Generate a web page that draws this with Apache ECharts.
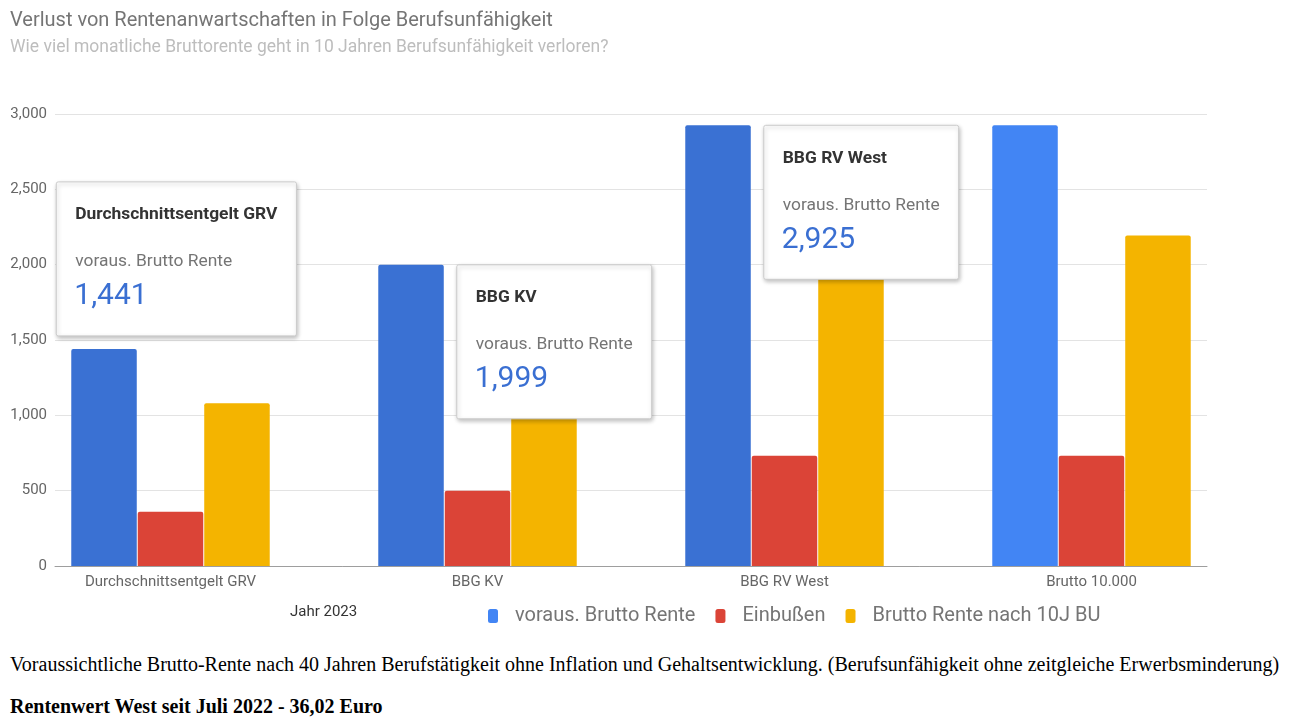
<!DOCTYPE html>
<html>
<head>
<meta charset="utf-8">
<script src="https://cdn.jsdelivr.net/npm/echarts@6/dist/echarts.min.js"></script>
<style>
  html, body { margin: 0; padding: 0; background: #fff; }
  #chart { position: absolute; left: 0; top: 0; width: 1291px; height: 640px; }
  .note { position: absolute; left: 10px; font-family: "Liberation Serif", "Times New Roman", serif; font-size: 20px; color: #000; white-space: nowrap; margin: 0; }
  #n1 { top: 653px; }
  #n2 { top: 695px; font-weight: bold; }
</style>
</head>
<body>
<div id="chart"></div>
<p class="note" id="n1">Voraussichtliche Brutto-Rente nach 40 Jahren Berufstätigkeit ohne Inflation und Gehaltsentwicklung. (Berufsunfähigkeit ohne zeitgleiche Erwerbsminderung)</p>
<p class="note" id="n2">Rentenwert West seit Juli 2022 - 36,02 Euro</p>
<script>
// ---- data ----
const categories = ['Durchschnittsentgelt GRV', 'BBG KV', 'BBG RV West', 'Brutto 10.000'];
const seriesNames = ['voraus. Brutto Rente', 'Einbußen', 'Brutto Rente nach 10J BU'];
const bruttoRente = [1441, 1999, 2925, 2925];
const einbussen = [360, 500, 731, 731];
const renteNachBU = [1081, 1499, 2194, 2194];
const yTicks = [0, 500, 1000, 1500, 2000, 2500, 3000];
const xAxisTitle = 'Jahr 2023';
const titleText = 'Verlust von Rentenanwartschaften in Folge Berufsunfähigkeit';
const subtitleText = 'Wie viel monatliche Bruttorente geht in 10 Jahren Berufsunfähigkeit verloren?';
// categories whose tooltip is shown (hover state)
const hovered = [0, 1, 2];

// ---- chart ----
const FONT = 'Roboto, Arial, sans-serif';
const BLUE = '#4285f4', BLUE_HOVER = '#3a71d3', RED = '#db4437', YELLOW = '#f4b400';
const fmt = v => v.toLocaleString('en-US');

const chart = echarts.init(document.getElementById('chart'), null, { renderer: 'canvas' });

const barW = 65.5;
const option = {
  animation: false,
  textStyle: { fontFamily: FONT },
  title: [
    { text: titleText, left: 5, top: 6, textStyle: { fontFamily: FONT, fontSize: 20, fontWeight: 'normal', color: '#757575' } },
    { text: subtitleText, left: 5, top: 34, textStyle: { fontFamily: FONT, fontSize: 17.5, fontWeight: 'normal', color: '#bdbdbd' } }
  ],
  legend: {
    left: 483, top: 601,
    itemWidth: 10, itemHeight: 14, itemGap: 20,
    icon: 'roundRect',
    textStyle: { fontFamily: FONT, fontSize: 20, color: '#757575', padding: [0, 0, 0, 12] },
    data: seriesNames
  },
  grid: [
    { left: 55, right: 84, top: 114, bottom: 74 },
    { left: 17, right: 46, top: 114, bottom: 74 }
  ],
  xAxis: [
    { gridIndex: 0, type: 'category', data: [''], axisLine: { show: true, lineStyle: { color: '#9e9e9e', width: 1 } }, axisTick: { show: false }, axisLabel: { show: false }, z: 5 },
    { gridIndex: 1, type: 'category', data: categories, axisLine: { show: false }, axisTick: { show: false },
      axisLabel: { color: '#666', fontSize: 15, fontFamily: FONT, margin: 9 } }
  ],
  yAxis: [
    { gridIndex: 0, type: 'value', min: yTicks[0], max: yTicks[yTicks.length - 1], interval: yTicks[1] - yTicks[0],
      axisLine: { show: false }, axisTick: { show: false },
      axisLabel: { color: '#666', fontSize: 15, fontFamily: FONT, margin: 8, formatter: v => fmt(v) },
      splitLine: { lineStyle: { color: '#e3e3e3', width: 1 } } },
    { gridIndex: 1, type: 'value', min: yTicks[0], max: yTicks[yTicks.length - 1], show: false, splitLine: { show: false } }
  ],
  series: [
    { name: seriesNames[0], type: 'bar', xAxisIndex: 1, yAxisIndex: 1, barWidth: barW, barGap: '1.5%',
      itemStyle: { color: BLUE, borderRadius: [2, 2, 0, 0] },
      data: bruttoRente.map((v, i) => ({ value: v, itemStyle: { color: hovered.includes(i) ? BLUE_HOVER : BLUE } })) },
    { name: seriesNames[1], type: 'bar', xAxisIndex: 1, yAxisIndex: 1, barWidth: barW, barGap: '1.5%',
      itemStyle: { color: RED, borderRadius: [2, 2, 0, 0] }, data: einbussen },
    { name: seriesNames[2], type: 'bar', xAxisIndex: 1, yAxisIndex: 1, barWidth: barW, barGap: '1.5%',
      itemStyle: { color: YELLOW, borderRadius: [2, 2, 0, 0] }, data: renteNachBU }
  ]
};
chart.setOption(option);

// ---- tooltip cards (computed from data through the axes) ----
const ctx = document.createElement('canvas').getContext('2d');
function measure(text, font) { ctx.font = font; return ctx.measureText(text).width; }

const graphics = [];
graphics.push({ type: 'text', left: 290, top: 605, z: 10, style: { text: xAxisTitle, font: '15px ' + FONT, fill: '#333' } });

const TF = 17.4;
hovered.forEach((i, k) => {
  const p = chart.convertToPixel({ xAxisIndex: 1, yAxisIndex: 1 }, [i, bruttoRente[i]]);
  const cx = p[0], top = p[1];
  const barLeft = cx - 1.5 * barW - barW * 0.015;
  const barRight = barLeft + barW;
  const w = Math.max(measure(categories[i], 'bold ' + TF + 'px ' + FONT), measure(seriesNames[0], TF + 'px ' + FONT)) + 38;
  const h = 154;
  let x, y;
  if (k === 0) { x = barLeft - 15; y = top - 13 - h; }
  else { x = barRight + 13; y = top; }
  graphics.push({
    type: 'group', x: x, y: y, z: 100,
    children: [
      { type: 'rect', z: 100, shape: { x: 0, y: 0, width: w, height: h, r: 2 },
        style: { fill: '#fff', stroke: '#cccccc', lineWidth: 1, shadowBlur: 4, shadowOffsetX: 1, shadowOffsetY: 2, shadowColor: 'rgba(0,0,0,0.25)' } },
      { type: 'text', z: 101, x: 19, y: 33, style: { text: categories[i], font: 'bold ' + TF + 'px ' + FONT, fill: '#333', textVerticalAlign: 'middle' } },
      { type: 'text', z: 101, x: 19, y: 80, style: { text: seriesNames[0], font: TF + 'px ' + FONT, fill: '#757575', textVerticalAlign: 'middle' } },
      { type: 'text', z: 101, x: 18, y: 115, style: { text: fmt(bruttoRente[i]), font: '30px ' + FONT, fill: '#3a6fd2', textVerticalAlign: 'middle' } }
    ]
  });
});
chart.setOption({ graphic: graphics });
</script>
</body>
</html>
